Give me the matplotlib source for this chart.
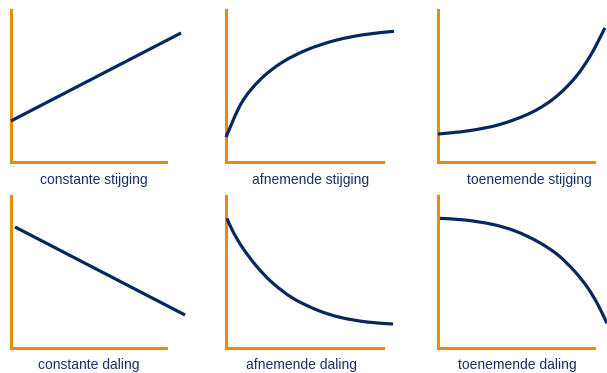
"""
Zes soorten stijging/daling (kleine grafiekjes)
"""
import matplotlib
matplotlib.use('Agg')
import matplotlib.pyplot as plt
from matplotlib.path import Path
from matplotlib.patches import PathPatch

plt.rcParams['font.family'] = ['Liberation Sans', 'DejaVu Sans']

ORANJE = '#e88d0a'
BLAUW = '#07275f'
TEKST = '#1b2f6a'

labels = ['constante stijging', 'afnemende stijging', 'toenemende stijging',
          'constante daling', 'afnemende daling', 'toenemende daling']

x_const_stijg = [0, 109.7]
y_const_stijg = [27.0, 84.9]

x_afn_stijg = [0, 10, 22, 36, 52, 70, 88, 107]
y_afn_stijg = [16.4, 39.1, 54.4, 65.7, 74.0, 80.1, 83.8, 86.0]

x_toen_stijg = [0, 20, 40, 60, 75, 88, 98, 107]
y_toen_stijg = [18.4, 20.6, 24.8, 32.6, 42.4, 55.6, 70.5, 88.2]

x_const_dal = [2.6, 112.3]
y_const_dal = [79.6, 21.7]

x_afn_dal = [0.6, 4.5, 10.8, 19.7, 29.9, 42.7, 58.0, 72.6, 89.8, 106.4]
y_afn_dal = [85.3, 76.5, 65.6, 53.5, 42.6, 32.7, 25.0, 20.2, 17.1, 15.8]

x_toen_dal = [1.3, 17.3, 34.6, 49.4, 64.1, 76.9, 87.8, 96.2, 102.6, 108.3]
y_toen_dal = [85.3, 84.2, 81.4, 77.0, 69.9, 61.2, 50.2, 39.3, 28.3, 16.3]

reeksen = [(x_const_stijg, y_const_stijg), (x_afn_stijg, y_afn_stijg),
           (x_toen_stijg, y_toen_stijg), (x_const_dal, y_const_dal),
           (x_afn_dal, y_afn_dal), (x_toen_dal, y_toen_dal)]

W, H = 607, 373
# oorsprong (px), aslengte (px) en label-midden (px)
oorsprong = [(11, 162), (226, 162), (438, 162), (11, 348), (226, 348), (438, 348)]
breedte = [155, 157, 156, 155, 157, 156]
label_pos = [(94, 180), (311, 180), (529, 180), (89, 365), (301, 365), (517, 365)]


def vloeiend_pad(xs, ys):
    pts = list(zip(xs, ys))
    verts = [pts[0]]
    codes = [Path.MOVETO]
    n = len(pts)
    for i in range(n - 1):
        p0 = pts[max(i - 1, 0)]
        p1 = pts[i]
        p2 = pts[i + 1]
        p3 = pts[min(i + 2, n - 1)]
        c1 = (p1[0] + (p2[0] - p0[0]) / 6, p1[1] + (p2[1] - p0[1]) / 6)
        c2 = (p2[0] - (p3[0] - p1[0]) / 6, p2[1] - (p3[1] - p1[1]) / 6)
        verts += [c1, c2, p2]
        codes += [Path.CURVE4] * 3
    return Path(verts, codes)


fig = plt.figure(figsize=(W / 100, H / 100), dpi=100)
fig.patch.set_facecolor('white')

for i in range(6):
    x0, y0 = oorsprong[i]
    ax = fig.add_axes([x0 / W, (H - y0) / H, breedte[i] / W, 152 / H])
    ax.set_xlim(0, 100)
    ax.set_ylim(0, 100)
    ax.set_facecolor('none')
    ax.set_xticks([])
    ax.set_yticks([])
    ax.spines['top'].set_visible(False)
    ax.spines['right'].set_visible(False)
    for s in ['left', 'bottom']:
        ax.spines[s].set_color(ORANJE)
        ax.spines[s].set_linewidth(2.2)
        ax.spines[s].set_capstyle('projecting')

    xs, ys = reeksen[i]
    lijn = PathPatch(vloeiend_pad(xs, ys), fill=False, edgecolor=BLAUW,
                     linewidth=2.3, capstyle='butt', joinstyle='round',
                     clip_on=False, zorder=3)
    ax.add_patch(lijn)

    lx, ly = label_pos[i]
    fig.text(lx / W, (H - ly) / H, labels[i], ha='center', va='center',
             fontsize=10, color=TEKST)

plt.savefig('out.png', dpi=100, facecolor='white')
plt.close()
